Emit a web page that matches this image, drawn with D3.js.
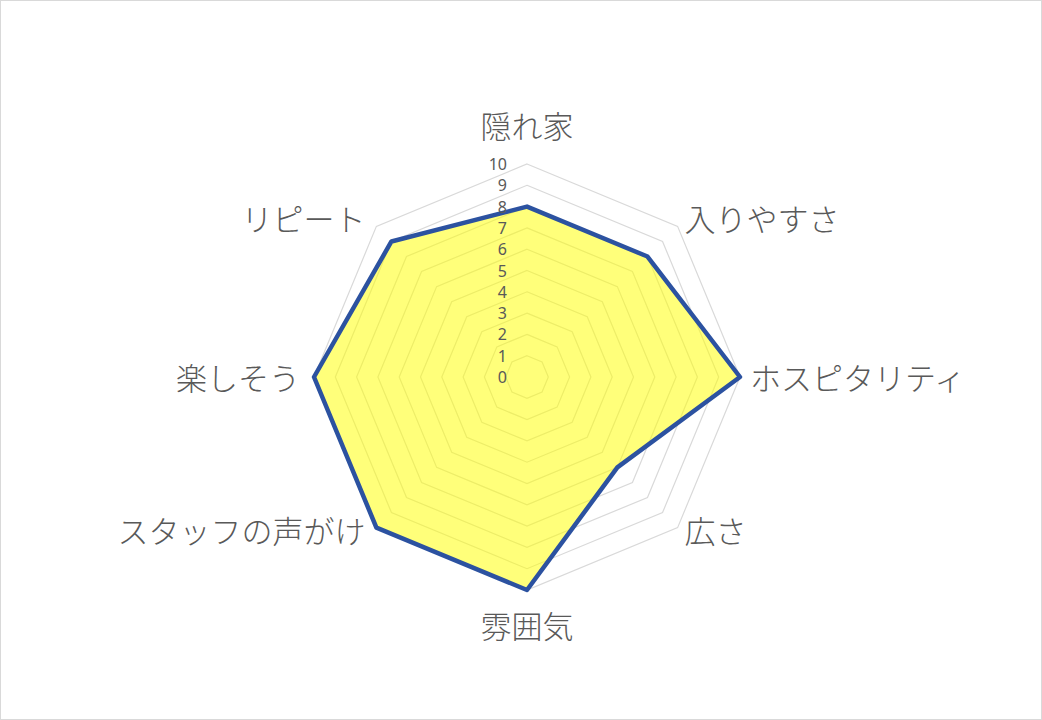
<!DOCTYPE html>
<html>
<head>
<meta charset="utf-8">
<script src="https://cdn.jsdelivr.net/npm/d3@7"></script>
<style>
  html, body { margin: 0; padding: 0; background: #fff; }
  svg { display: block; }
</style>
</head>
<body>
<svg id="chart" width="1042" height="720"></svg>
<script>
const categories = ["隠れ家", "入りやすさ", "ホスピタリティ", "広さ", "雰囲気", "スタッフの声がけ", "楽しそう", "リピート"];
const values = [8, 8, 10, 6, 10, 10, 10, 9];
const tickValues = [0, 1, 2, 3, 4, 5, 6, 7, 8, 9, 10];

const W = 1042, H = 720;
const cx = 527, cy = 377, R = 213;
const jpFont = "'Noto Sans CJK JP', 'Noto Sans', sans-serif";
const textColor = "#595959";

const svg = d3.select("#chart");

svg.append("rect")
  .attr("x", 0.5).attr("y", 0.5)
  .attr("width", W - 1).attr("height", H - 1)
  .attr("fill", "#fff").attr("stroke", "#d9d9d9").attr("stroke-width", 1);

const r = d3.scaleLinear().domain([0, 10]).range([0, R]);
const angle = d3.scalePoint().domain(categories).range([0, 2 * Math.PI * (categories.length - 1) / categories.length]);

const g = svg.append("g").attr("transform", `translate(${cx},${cy})`);

const radialLine = d3.lineRadial()
  .angle(d => angle(d.c))
  .radius(d => r(d.v))
  .curve(d3.curveLinearClosed);

// grid octagons
g.selectAll("path.grid")
  .data(tickValues.filter(t => t > 0))
  .join("path")
  .attr("class", "grid")
  .attr("d", t => radialLine(categories.map(c => ({ c, v: t }))))
  .attr("fill", "none")
  .attr("stroke", "#d9d9d9")
  .attr("stroke-width", 1.2);

// data area
const dataPts = categories.map((c, i) => ({ c, v: values[i] }));
g.append("path")
  .attr("d", radialLine(dataPts))
  .attr("fill", "#ffff00")
  .attr("fill-opacity", 0.52)
  .attr("stroke", "none");

g.append("path")
  .attr("d", radialLine(dataPts))
  .attr("fill", "none")
  .attr("stroke", "#2c52a0")
  .attr("stroke-width", 4.5)
  .attr("stroke-linejoin", "round");

// tick labels
g.selectAll("text.tick")
  .data(tickValues)
  .join("text")
  .attr("class", "tick")
  .attr("x", -20)
  .attr("y", t => -r(t))
  .attr("text-anchor", "end")
  .attr("dominant-baseline", "central")
  .attr("font-family", "'Noto Sans', 'Liberation Sans', sans-serif")
  .attr("font-size", 16)
  .attr("fill", textColor)
  .text(t => t);

// category labels
g.selectAll("text.cat")
  .data(categories)
  .join("text")
  .attr("class", "cat")
  .each(function (c) {
    const a = angle(c);
    const s = Math.sin(a), co = Math.cos(a);
    const px = R * s, py = -R * co;
    let x = px, y = py, anchor = "middle";
    if (Math.abs(s) < 0.01) {
      y = co > 0 ? py - 40 : py + 34;
    } else if (Math.abs(co) < 0.01) {
      anchor = s > 0 ? "start" : "end";
      x = s > 0 ? px + 10 : px - 14;
      y = py - 1;
    } else {
      anchor = s > 0 ? "start" : "end";
      x = s > 0 ? px + 7 : px - 11;
      y = co > 0 ? py - 9 : py + 2;
    }
    d3.select(this)
      .attr("x", x).attr("y", y)
      .attr("text-anchor", anchor);
  })
  .attr("dominant-baseline", "central")
  .attr("font-family", jpFont)
  .attr("font-size", 31)
  .attr("font-weight", 300)
  .attr("fill", textColor)
  .text(c => c);
</script>
</body>
</html>
